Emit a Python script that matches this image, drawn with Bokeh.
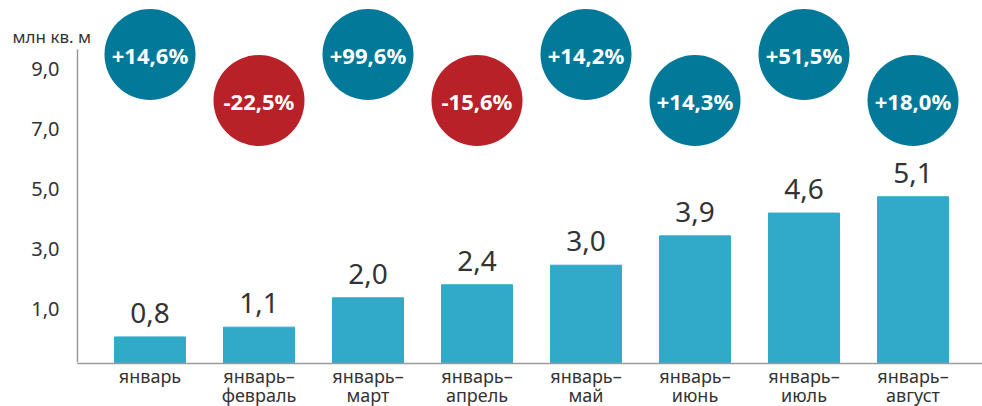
from bokeh.plotting import figure
from bokeh.models import Range1d, LinearAxis, FixedTicker, Label, ColumnDataSource
from bokeh.core.properties import value
from bokeh.embed import file_html
from bokeh.resources import INLINE

# ---- data ----
categories = ["январь", "январь–\nфевраль", "январь–\nмарт", "январь–\nапрель",
              "январь–\nмай", "январь–\nиюнь", "январь–\nиюль", "январь–\nавгуст"]
volumes = [0.8, 1.1, 2.0, 2.4, 3.0, 3.9, 4.6, 5.1]
changes = [14.6, -22.5, 99.6, -15.6, 14.2, 14.3, 51.5, 18.0]
y_ticks = [1, 3, 5, 7, 9]
y_tick_labels = ["1,0", "3,0", "5,0", "7,0", "9,0"]
unit_label = "млн кв. м"

# ---- style / layout ----
FONT_NAME = "Noto Sans"
FONT = value(FONT_NAME)
TXT = "#333333"
BAR = "#31a9c9"
POS = "#03799a"
NEG = "#b82127"
AXIS = "#9a9a9a"

W, H = 982, 406
X0, X1 = -1.3716, 7.6376        # visible x extent (category index units)
Y0, Y1 = -1.334, 11.12          # visible y extent (bar value units)
AX_X = -0.665                   # where the value axis sits
L0, L1 = -2.263, 11.297         # scale of the printed tick labels
ROW_HI, ROW_LO = 9.463, 8.052   # rows of the change badges

idx = list(range(len(categories)))
vol_text = [f"{v:.1f}".replace(".", ",") for v in volumes]
chg_text = [f"{c:+.1f}%".replace(".", ",") for c in changes]
chg_color = [POS if c > 0 else NEG for c in changes]
chg_y = [ROW_HI if i % 2 == 0 else ROW_LO for i in idx]

src = ColumnDataSource(dict(x=idx, v=volumes, vt=vol_text, ct=chg_text,
                            cc=chg_color, cy=chg_y))

p = figure(width=W, height=H, output_backend="svg", toolbar_location=None,
           x_range=Range1d(X0, X1), y_range=Range1d(Y0, Y1),
           x_axis_location=None, y_axis_location=None,
           min_border=0, outline_line_color=None,
           background_fill_color="white", border_fill_color="white")
p.xgrid.visible = False
p.ygrid.visible = False

p.vbar(x="x", top="v", width=0.651, bottom=0, color=BAR, source=src)
p.text(x="x", y="v", text="vt", source=src, y_offset=-24,
       text_align="center", text_baseline="alphabetic",
       text_font=FONT, text_font_size="28px", text_color=TXT)

p.scatter(x="x", y="cy", size=91, color="cc", line_color=None, source=src)
p.text(x="x", y="cy", text="ct", source=src, text_align="center",
       text_baseline="middle", text_font=FONT, text_font_size="22px",
       text_font_style="bold", text_color="white")

# category axis at the bar baseline
xa = LinearAxis(fixed_location=0, bounds=(AX_X, X1),
                ticker=FixedTicker(ticks=idx))
xa.major_label_overrides = {i: c for i, c in zip(idx, categories)}
xa.axis_line_color = AXIS
xa.axis_line_width = 1.5
xa.major_tick_line_color = None
xa.minor_tick_line_color = None
xa.major_tick_out = 0
xa.major_tick_in = 0
xa.major_label_standoff = 1
xa.major_label_text_font = FONT_NAME
xa.major_label_text_font_size = "18px"
xa.major_label_text_color = TXT
xa.major_label_text_line_height = 0.8
p.add_layout(xa, "below")

# value axis on its own label scale
p.extra_y_ranges = {"lbl": Range1d(L0, L1)}
ya = LinearAxis(y_range_name="lbl", fixed_location=AX_X,
                ticker=FixedTicker(ticks=y_ticks), bounds=(-0.810, 9.66))
ya.major_label_overrides = {t: l for t, l in zip(y_ticks, y_tick_labels)}
ya.axis_line_color = AXIS
ya.axis_line_width = 1.5
ya.major_tick_line_color = None
ya.minor_tick_line_color = None
ya.major_tick_out = 0
ya.major_tick_in = 0
ya.major_label_standoff = 18
ya.major_label_text_font = FONT_NAME
ya.major_label_text_font_size = "20px"
ya.major_label_text_color = TXT
p.add_layout(ya, "left")

p.add_layout(Label(x=12, y=370, x_units="screen", y_units="screen",
                   text=unit_label, text_font=FONT_NAME, text_font_size="17px",
                   text_color=TXT, text_baseline="alphabetic"))

open("out.html", "w").write(file_html(p, INLINE))
